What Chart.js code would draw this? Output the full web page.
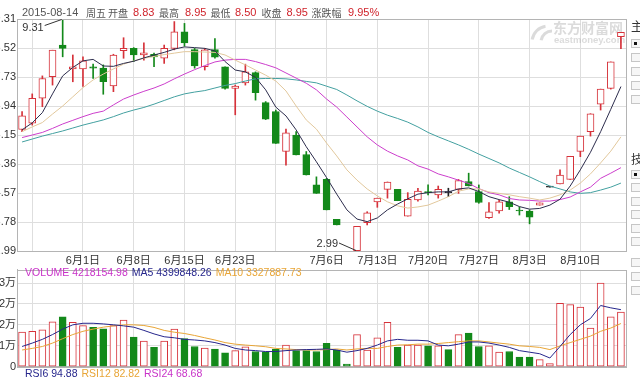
<!DOCTYPE html>
<html><head><meta charset="utf-8">
<script src="https://cdn.jsdelivr.net/npm/chart.js@4.4.0/dist/chart.umd.min.js"></script>
<style>
html,body{margin:0;padding:0;background:#fff;width:640px;height:380px;overflow:hidden;}
#c1{position:absolute;left:0;top:0;}
#c2{position:absolute;left:0;top:262px;}
.tx{position:absolute;font:12px "Noto Sans CJK SC","Liberation Sans",sans-serif;color:#333;line-height:14px;}
.bx{position:absolute;left:631px;width:9px;height:7px;border:1px solid #c6c6c6;background:#f6f6f6;}
.bx.on::after{content:"";position:absolute;left:2px;top:2px;width:3px;height:3px;background:#111;}
</style></head><body>
<canvas id="c1" width="640" height="266"></canvas>
<canvas id="c2" width="640" height="118"></canvas>
<div class="tx" style="left:631px;top:19px">主</div>
<div class="tx" style="left:631px;top:152px">技</div>
<div class="bx on" style="top:39px"></div>
<div class="bx" style="top:53px"></div>
<div class="bx" style="top:67px"></div>
<div class="bx" style="top:81px"></div>
<div class="bx" style="top:95px"></div>
<div class="bx on" style="top:170px"></div>
<div class="bx" style="top:183px"></div>
<div class="bx" style="top:197px"></div>
<div class="bx" style="top:210px"></div>
<div class="bx" style="top:224px"></div>
<div class="bx" style="top:237px"></div>
<div class="bx" style="top:258px"></div>
<div class="bx" style="top:272px"></div>
<div class="bx" style="top:286px"></div>
<script>
// ---------- DATA ----------
const dates = ['2015-05-22',
 '2015-05-25','2015-05-26','2015-05-27','2015-05-28','2015-05-29',
 '2015-06-01','2015-06-02','2015-06-03','2015-06-04','2015-06-05',
 '2015-06-08','2015-06-09','2015-06-10','2015-06-11','2015-06-12',
 '2015-06-15','2015-06-16','2015-06-17','2015-06-18','2015-06-19',
 '2015-06-23','2015-06-24','2015-06-25','2015-06-26',
 '2015-06-29','2015-06-30','2015-07-01','2015-07-02','2015-07-03',
 '2015-07-06','2015-07-07','2015-07-08','2015-07-09','2015-07-10',
 '2015-07-13','2015-07-14','2015-07-15','2015-07-16','2015-07-17',
 '2015-07-20','2015-07-21','2015-07-22','2015-07-23','2015-07-24',
 '2015-07-27','2015-07-28','2015-07-29','2015-07-30','2015-07-31',
 '2015-08-03','2015-08-04','2015-08-05','2015-08-06','2015-08-07',
 '2015-08-10','2015-08-11','2015-08-12','2015-08-13','2015-08-14'];

// 2015-07-08: no candle visible in the picture (null)
const opens = [6.30,6.47,7.15,7.74,8.60,7.95,7.95,8.01,7.97,7.49,
 8.45,8.51,8.33,8.35,8.24,8.51,8.96,8.48,8.01,8.48,
 8.01,7.42,7.57,7.85,7.03,6.79,5.70,6.15,5.62,4.79,
 4.94,3.85,null,3.00,3.76,4.33,4.67,4.67,3.94,4.38,
 4.60,4.52,4.58,4.67,4.88,4.61,3.90,4.08,4.33,4.10,
 4.08,4.24,4.73,4.82,4.94,5.70,6.24,6.99,7.42,8.83];
const highs = [6.79,7.27,7.76,8.46,9.31,8.33,8.28,8.08,8.06,8.35,
 8.80,8.53,8.66,8.38,8.60,9.24,9.19,8.51,8.51,8.78,
 8.01,7.51,8.08,7.87,7.06,6.83,6.31,6.24,5.70,5.01,
 4.97,3.85,null,3.66,4.06,4.43,4.87,4.67,4.58,4.70,
 4.79,4.76,4.70,4.94,5.11,4.79,4.31,4.38,4.47,4.19,
 4.11,4.30,4.73,5.20,5.57,6.12,6.73,7.40,8.14,8.95];
const lows = [6.24,6.42,6.92,7.51,8.28,7.60,7.47,7.69,7.26,7.33,
 8.24,8.15,8.19,8.01,8.10,8.47,8.57,7.97,7.92,8.24,
 7.40,6.70,7.51,7.10,6.57,5.92,5.33,5.61,5.06,4.56,
 4.11,3.70,null,2.99,3.70,4.18,4.43,4.36,3.94,4.35,
 4.52,4.43,4.47,4.56,4.76,4.29,3.88,4.02,4.12,3.97,
 3.73,4.24,4.73,4.82,4.94,5.56,6.12,6.83,7.40,8.50];
const closes = [6.67,7.15,7.69,8.46,8.51,8.01,8.17,7.97,7.60,8.33,
 8.51,8.33,8.39,8.28,8.51,8.96,8.66,8.03,8.47,8.27,
 7.42,7.48,7.87,7.30,6.58,5.92,6.21,5.61,5.06,4.56,
 4.11,3.70,null,3.66,4.03,4.43,4.87,4.36,4.40,4.62,
 4.58,4.67,4.58,4.91,4.76,4.31,4.06,4.33,4.20,4.08,
 3.91,4.30,4.73,5.06,5.57,6.12,6.73,7.40,8.14,8.95];

const ma5 = [6.29,6.48,6.76,7.27,7.76,7.99,8.17,8.21,8.03,8.02,
 8.10,8.16,8.25,8.33,8.40,8.49,8.55,8.53,8.51,8.44,
 8.15,7.92,7.87,7.72,7.38,6.91,6.67,6.29,5.83,5.42,
 4.99,4.54,4.11,3.86,3.79,3.89,4.11,4.27,4.41,4.54,
 4.58,4.60,4.60,4.68,4.71,4.61,4.47,4.39,4.32,4.20,
 4.13,4.15,4.24,4.40,4.76,5.20,5.68,6.24,6.85,7.47];
const ma10 = [6.24,6.37,6.49,6.72,6.94,7.19,7.44,7.65,7.81,7.95,
 8.08,8.17,8.24,8.29,8.34,8.38,8.42,8.42,8.41,8.40,
 8.33,8.19,8.06,7.92,7.78,7.62,7.35,6.94,6.56,6.31,
 5.93,5.58,5.20,4.92,4.68,4.49,4.33,4.22,4.16,4.19,
 4.24,4.35,4.47,4.62,4.68,4.68,4.60,4.56,4.52,4.47,
 4.43,4.38,4.43,4.52,4.65,4.84,5.09,5.39,5.71,6.10];
const ma20 = [6.08,6.15,6.22,6.33,6.45,6.55,6.65,6.74,6.80,6.97,
 7.13,7.24,7.34,7.43,7.54,7.68,7.81,7.93,8.04,8.14,
 8.19,8.21,8.21,8.15,8.07,7.98,7.84,7.70,7.56,7.38,
 7.13,6.91,6.64,6.37,6.10,5.88,5.71,5.58,5.47,5.31,
 5.22,5.09,5.01,4.92,4.83,4.69,4.58,4.52,4.42,4.38,
 4.37,4.35,4.35,4.39,4.46,4.60,4.73,4.97,5.11,5.26];
const ma30 = [5.96,6.04,6.12,6.19,6.26,6.34,6.42,6.49,6.56,6.65,
 6.75,6.83,6.90,6.99,7.09,7.19,7.27,7.32,7.36,7.43,
 7.50,7.55,7.62,7.68,7.69,7.69,7.68,7.65,7.61,7.57,
 7.48,7.39,7.24,7.08,6.93,6.80,6.69,6.60,6.50,6.37,
 6.22,6.10,5.99,5.88,5.76,5.63,5.51,5.39,5.25,5.13,
 5.01,4.88,4.76,4.68,4.60,4.56,4.58,4.65,4.73,4.84];

// volume, millions of shares
const volumes = [2.68,2.73,2.85,3.47,3.85,3.42,3.17,3.03,2.93,3.17,
 3.60,2.28,1.98,1.49,1.98,2.90,2.16,1.56,1.44,1.36,
 1.07,1.24,1.54,1.17,1.12,1.36,1.66,1.24,1.24,1.17,
 1.81,1.29,0.20,2.48,1.29,2.23,3.42,1.49,1.66,1.66,
 1.61,1.61,1.32,2.48,2.60,1.56,1.61,1.12,1.17,0.74,
 0.74,0.55,0.25,4.89,4.79,4.59,2.98,6.45,3.85,4.22];
// bar colour of each volume bar: 1 = rising (hollow red), 0 = falling (green)
const volRising = [1,1,1,1,0,1,1,0,0,1,
 1,0,1,0,1,1,0,0,1,0,
 0,1,1,0,0,0,1,0,0,0,
 0,0,0,1,1,1,1,0,1,1,
 0,1,0,1,0,0,1,1,0,0,
 0,1,1,1,1,1,1,1,1,1];
const volMa5 = [1.56,1.82,2.11,2.48,2.90,3.23,3.35,3.35,3.30,3.23,
 3.15,3.05,2.80,2.53,2.31,2.23,2.11,2.06,1.99,1.86,
 1.67,1.41,1.29,1.24,1.17,1.17,1.24,1.29,1.32,1.34,
 1.37,1.29,1.12,1.24,1.41,1.67,1.99,2.11,2.04,2.04,
 1.99,1.67,1.61,1.74,1.91,1.91,1.82,1.67,1.49,1.24,
 1.12,1.00,0.67,1.56,2.48,3.23,3.72,4.72,4.54,4.40];
const volMa10 = [1.29,1.41,1.56,1.82,2.16,2.48,2.73,2.90,3.05,3.15,
 3.23,3.23,3.18,3.03,2.80,2.66,2.56,2.41,2.23,2.06,
 1.86,1.74,1.67,1.61,1.54,1.41,1.37,1.32,1.29,1.29,
 1.32,1.37,1.29,1.37,1.41,1.41,1.56,1.67,1.69,1.74,
 1.74,1.79,1.86,1.93,1.99,1.99,1.91,1.82,1.74,1.61,
 1.56,1.49,1.32,1.61,1.86,2.11,2.36,2.73,2.98,3.33];

const priceTicks = [2.99,3.78,4.57,5.36,6.15,6.94,7.73,8.52,9.31];
const volTicks = [0,1.61,3.23,4.84,6.45];
const volTickLabels = ['0','1万','2万','2万','3万'];
const xTickDates = ['2015-06-01','2015-06-08','2015-06-15','2015-06-23','2015-07-06','2015-07-13','2015-07-20','2015-07-27','2015-08-03','2015-08-10'];
const xTickLabels = ['6月1日','6月8日','6月15日','6月23日','7月6日','7月13日','7月20日','7月27日','8月3日','8月10日'];
const gridOnlyDates = ['2015-05-25','2015-06-29'];

const headerParts = [['2015-08-14','g'],['周五','g'],['开盘','g'],['8.83','r'],['最高','g'],['8.95','r'],['最低','g'],['8.50','r'],['收盘','g'],['8.95','r'],['涨跌幅','g'],['9.95%','r']];
const volLegend = [['VOLUME 4218154.98','#c832c8'],['MA5 4399848.26','#26268c'],['MA10 3327887.73','#e8a536']];
const rsiLegend = [['RSI6 94.88','#26268c'],['RSI12 82.82','#e8a536'],['RSI24 68.68','#c832c8']];

// ---------- STYLE ----------
const FONT = '"Liberation Sans","Noto Sans CJK SC",sans-serif';
const UP = '#d6323a', DOWN = '#13891a', FLAT = '#222';
const GRID = '#dedede', EDGE = '#b4b4b4';
const gridIdx = new Set([...xTickDates, ...gridOnlyDates].map(d => dates.indexOf(d)));
const labelAt = {}; xTickDates.forEach((d, k) => labelAt[dates.indexOf(d)] = xTickLabels[k]);

const candleCol = closes.map((c, i) => c > opens[i] ? UP : (c < opens[i] ? DOWN : FLAT));
const bodyFill = closes.map((c, i) => c > opens[i] ? '#ffffff' : candleCol[i]);

const xScaleBase = (showTicks) => ({
  type: 'category', offset: true,
  grid: { offset: false, drawTicks: false, color: c => gridIdx.has(c.index) ? GRID : 'rgba(0,0,0,0)' },
  border: { color: EDGE },
  ticks: { display: showTicks, autoSkip: false, maxRotation: 0, minRotation: 0, padding: 3,
           color: '#333', font: { size: 11, family: FONT },
           callback: (v, i) => labelAt[i] || '' }
});

const lineDs = (data, color, order) => ({ type: 'line', data, borderColor: color, borderWidth: 1,
  pointRadius: 0, tension: 0, fill: false, order });

// ---------- MAIN CHART ----------
const mainDecor = {
  id: 'mainDecor',
  beforeDatasetsDraw(chart) {
    const ctx = chart.ctx;
    ctx.save();
    ctx.fillStyle = 'rgba(160,160,160,0.38)';
    ctx.strokeStyle = 'rgba(160,160,160,0.38)';
    ctx.lineWidth = 3;
    ctx.beginPath(); ctx.arc(548, 42, 16, Math.PI * 1.05, Math.PI * 1.45); ctx.stroke();
    ctx.beginPath(); ctx.arc(552, 42, 11, Math.PI * 1.05, Math.PI * 1.5); ctx.stroke();
    ctx.textBaseline = 'middle';
    ctx.font = 'bold 14px "Noto Sans CJK SC"';
    ctx.fillText('东方财富网', 553, 28);
    ctx.font = 'bold 9.5px "Liberation Sans"';
    ctx.fillText('eastmoney.com', 554, 40);
    ctx.restore();
  },
  afterDraw(chart) {
    const { ctx, chartArea: a, scales } = chart;
    ctx.save();
    ctx.strokeStyle = EDGE; ctx.lineWidth = 1;
    ctx.strokeRect(Math.round(a.left) + 0.5, Math.round(a.top) + 0.5, Math.round(a.right - a.left), Math.round(a.bottom - a.top));
    // header
    const xs = [22, 86, 108, 133, 159, 185, 210.5, 235, 261.5, 286.5, 311.5, 348];
    ctx.textBaseline = 'middle';
    headerParts.forEach((p, k) => {
      ctx.font = /[\u4e00-\u9fff]/.test(p[0]) ? '10px "Noto Sans CJK SC"' : '11px ' + FONT;
      ctx.fillStyle = p[1] === 'r' ? '#d0232b' : '#555';
      ctx.fillText(p[0], xs[k], 13);
    });
    // max / min annotations
    ctx.font = '11px ' + FONT; ctx.fillStyle = '#333'; ctx.strokeStyle = '#333';
    const hs = highs.filter(v => v != null), ls = lows.filter(v => v != null);
    const hi = Math.max(...hs), hiI = highs.indexOf(hi);
    const lo = Math.min(...ls), loI = lows.indexOf(lo);
    let px = scales.x.getPixelForValue(hiI), py = scales.y.getPixelForValue(hi);
    ctx.textAlign = 'right';
    ctx.fillText(hi.toFixed(2), px - 19, py + 8.5);
    ctx.beginPath(); ctx.moveTo(px - 18, py + 6.5); ctx.lineTo(px - 1, py + 0.5); ctx.stroke();
    px = scales.x.getPixelForValue(loI); py = scales.y.getPixelForValue(lo);
    ctx.fillText(lo.toFixed(2), px - 19, py - 7);
    ctx.beginPath(); ctx.moveTo(px - 18, py - 8); ctx.lineTo(px - 1, py - 0.5); ctx.stroke();
    ctx.restore();
  }
};

new Chart(document.getElementById('c1'), {
  type: 'bar',
  data: {
    labels: dates,
    datasets: [
      lineDs(ma5, '#2c2c4c', 1),
      lineDs(ma10, '#e2c89c', 1),
      lineDs(ma20, '#cc3ecc', 1),
      lineDs(ma30, '#43a0a0', 1),
      { data: opens.map((o, i) => o == null ? null : [o, closes[i]]), backgroundColor: bodyFill, borderColor: candleCol,
        borderWidth: 1, borderSkipped: false, barThickness: 7, minBarLength: 1, grouped: false, order: 2 },
      { data: lows.map((l, i) => l == null ? null : [l, highs[i]]), backgroundColor: candleCol, barThickness: 1,
        grouped: false, order: 3 }
    ]
  },
  options: {
    responsive: false, animation: false, events: [],
    layout: { padding: { left: 0, right: 14, top: 19, bottom: 0 } },
    plugins: { legend: { display: false }, tooltip: { enabled: false } },
    scales: {
      x: Object.assign(xScaleBase(true), { afterFit: s => { s.height = 15; } }),
      y: {
        min: 2.99, max: 9.31,
        grid: { color: GRID, drawTicks: false },
        border: { color: EDGE },
        ticks: { padding: 1, color: '#333', font: { size: 11, family: FONT }, callback: v => Number(v).toFixed(2) },
        afterBuildTicks: s => { s.ticks = priceTicks.map(v => ({ value: v })); },
        afterFit: s => { s.width = 17; }
      }
    }
  },
  plugins: [mainDecor]
});

// ---------- VOLUME CHART ----------
const volDecor = {
  id: 'volDecor',
  afterDraw(chart) {
    const { ctx, chartArea: a } = chart;
    ctx.save();
    ctx.strokeStyle = EDGE; ctx.lineWidth = 1;
    ctx.strokeRect(Math.round(a.left) + 0.5, Math.round(a.top) + 0.5, Math.round(a.right - a.left), Math.round(a.bottom - a.top));
    ctx.textBaseline = 'middle';
    ctx.font = '10.5px ' + FONT;
    let x = 25;
    volLegend.forEach(p => { ctx.fillStyle = p[1]; ctx.fillText(p[0], x, 11); x += ctx.measureText(p[0]).width + 4; });
    x = 25;
    rsiLegend.forEach(p => { ctx.fillStyle = p[1]; ctx.fillText(p[0], x, 112); x += ctx.measureText(p[0]).width + 4; });
    ctx.restore();
  }
};

new Chart(document.getElementById('c2'), {
  type: 'bar',
  data: {
    labels: dates,
    datasets: [
      lineDs(volMa5, '#26268c', 1),
      lineDs(volMa10, '#e8a536', 1),
      { data: volumes, backgroundColor: volRising.map(u => u ? '#ffffff' : DOWN),
        borderColor: volRising.map(u => u ? UP : DOWN), borderWidth: 1, borderSkipped: false,
        barThickness: 7, grouped: false, order: 2 }
    ]
  },
  options: {
    responsive: false, animation: false, events: [],
    layout: { padding: { left: 0, right: 14, top: 4, bottom: 0 } },
    plugins: { legend: { display: false }, tooltip: { enabled: false } },
    scales: {
      x: Object.assign(xScaleBase(false), { afterFit: s => { s.height = 13.3; } }),
      y: {
        min: 0, max: 7.49,
        grid: { color: GRID, drawTicks: false },
        border: { color: EDGE },
        ticks: { padding: 1, color: '#333', font: { size: 11, family: FONT }, callback: (v, i) => volTickLabels[i] },
        afterBuildTicks: s => { s.ticks = volTicks.map(v => ({ value: v })); },
        afterFit: s => { s.width = 17; }
      }
    }
  },
  plugins: [volDecor]
});
</script>
</body></html>
